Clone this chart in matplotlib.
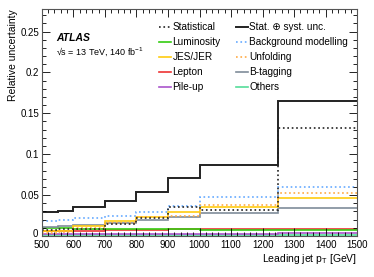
import matplotlib.pyplot as plt
import matplotlib.transforms as mtransforms
from matplotlib.ticker import MultipleLocator, FixedFormatter, FixedLocator
from matplotlib.lines import Line2D

plt.rcParams['font.family'] = ['Liberation Sans', 'DejaVu Sans']
plt.rcParams['font.size'] = 7

# bin edges in leading jet pT [GeV]
edges = [500, 550, 600, 700, 800, 900, 1000, 1250, 1500]

# relative uncertainties per bin
total = [0.029, 0.031, 0.036, 0.043, 0.054, 0.071, 0.087, 0.165]
stat = [0.007, 0.008, 0.009, 0.015, 0.022, 0.036, 0.032, 0.132]
lumi = [0.0095, 0.0092, 0.009, 0.0088, 0.0085, 0.008, 0.0075, 0.0075]
jes = [0.006, 0.006, 0.012, 0.018, 0.023, 0.029, 0.035, 0.047]
lepton = [0.006, 0.006, 0.0065, 0.007, 0.0075, 0.008, 0.0085, 0.009]
pileup = [0.002, 0.002, 0.002, 0.002, 0.002, 0.002, 0.002, 0.004]
bkg = [0.018, 0.019, 0.0215, 0.024, 0.029, 0.037, 0.048, 0.060]
unfold = [0.004, 0.005, 0.010, 0.016, 0.023, 0.025, 0.038, 0.053]
btag = [0.011, 0.012, 0.013, 0.016, 0.020, 0.023, 0.028, 0.034]
others = [0.001, 0.001, 0.001, 0.001, 0.001, 0.001, 0.001, 0.001]

fig = plt.figure(figsize=(3.74, 2.77), dpi=100)
ax = fig.add_axes([0.112, 0.148, 0.843, 0.818])

# (values, label, colour, linestyle, linewidth)
series = [
    (others, 'Others', '#55dd99', '-', 1.2),
    (pileup, 'Pile-up', '#aa55cc', '-', 1.2),
    (lepton, 'Lepton', '#ee3333', '-', 1.2),
    (lumi, 'Luminosity', '#33cc11', '-', 1.2),
    (btag, 'B-tagging', '#7f8c99', '-', 1.2),
    (jes, 'JES/JER', '#ffcc11', '-', 1.2),
    (unfold, 'Unfolding', '#ffaa44', ':', 1.2),
    (bkg, 'Background modelling', '#66aaff', ':', 1.2),
    (stat, 'Statistical', '#222222', ':', 1.2),
    (total, 'Stat. \u2295 syst. unc.', '#222222', '-', 1.4),
]
for vals, lab, col, ls, lw in series:
    ax.stairs(vals, edges, color=col, linestyle=ls, linewidth=lw, baseline=None)

ax.set_xlim(500, 1500)
ax.set_ylim(0, 0.277)

ax.xaxis.set_major_locator(MultipleLocator(100))
ax.xaxis.set_minor_locator(MultipleLocator(20))
ax.yaxis.set_major_locator(FixedLocator([0, 0.05, 0.1, 0.15, 0.2, 0.25]))
ax.yaxis.set_major_formatter(FixedFormatter(['0', '0.05', '0.1', '0.15', '0.2', '0.25']))
ax.yaxis.set_minor_locator(MultipleLocator(0.01))
ax.tick_params(which='both', direction='in', top=True, right=True, labelsize=7, pad=2)
ax.tick_params(axis='x', which='major', pad=3)
ax.tick_params(which='major', length=6, width=0.6)
ax.tick_params(which='minor', length=3, width=0.6)
for s in ax.spines.values():
    s.set_linewidth(0.8)
    s.set_color('#555555')

# nudge the "0" label up a little so it does not collide with "500"
zero_lab = ax.yaxis.get_major_ticks()[0].label1
zero_lab.set_transform(zero_lab.get_transform() +
                       mtransforms.ScaledTranslation(-0.5 / 72, 2.5 / 72, fig.dpi_scale_trans))

ax.set_xlabel('Leading jet p$_{\\mathregular{T}}$ [GeV]', fontsize=7.5, loc='right', labelpad=1.5)
ax.set_ylabel('Relative uncertainty', fontsize=7.5, loc='top', labelpad=2)

ax.text(0.045, 0.86, 'ATLAS', transform=ax.transAxes, fontsize=7.5,
        fontweight='bold', fontstyle='italic')
ax.text(0.045, 0.80, '\u221as = 13 TeV, 140 fb$^{\\mathregular{-1}}$', transform=ax.transAxes, fontsize=6.5)

order = ['Statistical', 'Luminosity', 'JES/JER', 'Lepton', 'Pile-up',
         'Stat. \u2295 syst. unc.', 'Background modelling', 'Unfolding', 'B-tagging', 'Others']
lookup = {s[1]: s for s in series}
handles = [Line2D([], [], color=lookup[k][2], linestyle=lookup[k][3], linewidth=lookup[k][4]) for k in order]
ax.legend(handles, order, ncol=2, frameon=False, fontsize=7.2, loc='upper left',
          bbox_to_anchor=(0.359, 0.96), handlelength=1.2, handletextpad=0.15,
          columnspacing=1.5, labelspacing=0.5, borderaxespad=0)

fig.savefig('out.png', dpi=100)
